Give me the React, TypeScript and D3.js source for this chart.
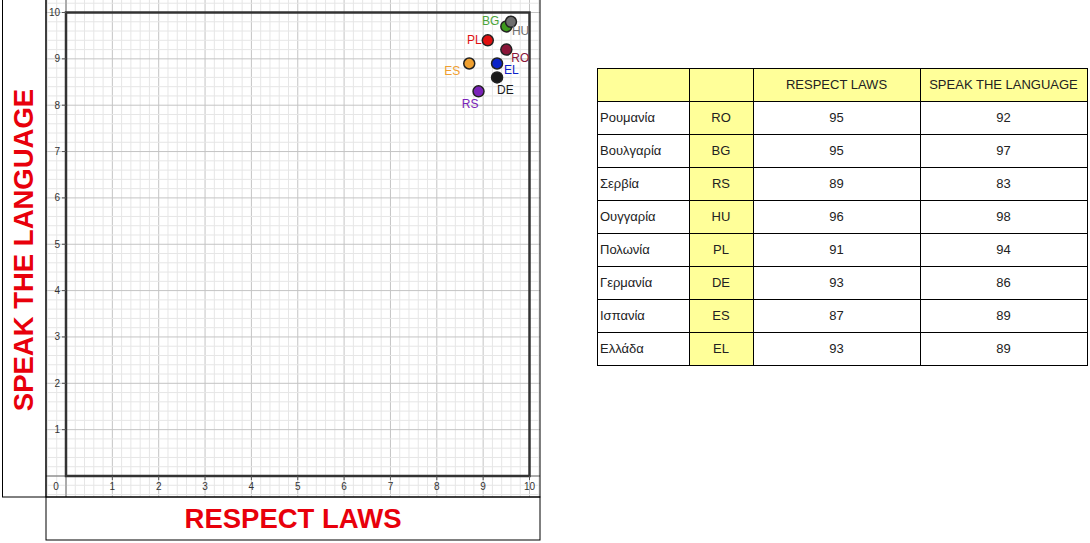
import React from "react";
import * as d3 from "d3";

const countries = ["Ρουμανία", "Βουλγαρία", "Σερβία", "Ουγγαρία", "Πολωνία", "Γερμανία", "Ισπανία", "Ελλάδα"];
const codes = ["RO", "BG", "RS", "HU", "PL", "DE", "ES", "EL"];
const respectLaws = [95, 95, 89, 96, 91, 93, 87, 93];
const speakLanguage = [92, 97, 83, 98, 94, 86, 89, 89];
const pointColors = ["#8a1538", "#3d9a1c", "#7a22b8", "#6e6e6e", "#e01010", "#1a1a1a", "#f0a030", "#0a22c8"];
const labelColors = ["#8a1538", "#4ca43a", "#7a22b8", "#6e6e6e", "#e01010", "#1a1a1a", "#f0a030", "#0a22c8"];
const labelOffsets: [number, number, string][] = [
  [5, 12, "start"], [-7, -1, "end"], [0, 17, "end"], [1, 13, "start"],
  [-6, 4, "end"], [0, 17, "start"], [-9, 12, "end"], [7, 11, "start"],
];
const tickValues = [1, 2, 3, 4, 5, 6, 7, 8, 9, 10];
const headers = ["", "", "RESPECT LAWS", "SPEAK THE LANGUAGE"];

export default function App() {
  const x = d3.scaleLinear().domain([0, 10]).range([66, 529.5]);
  const y = d3.scaleLinear().domain([0, 10]).range([476, 12.5]);
  const plotL = 46, plotR = 540, plotT = 0, plotB = 497;
  const minor = d3.range(-0.4, 10.3, 0.2).map((v) => +v.toFixed(1));
  const font = "Arial, 'Liberation Sans', sans-serif";

  const colX = [597, 689, 753, 920, 1087];
  const rowY = d3.range(10).map((i) => 68 + i * 33);
  const yellow = "#ffff99";

  return (
    <svg width={1090} height={543} style={{ position: "absolute", left: 0, top: 0, background: "#fff" }} fontFamily={font}>
      <defs>
        <clipPath id="plotclip">
          <rect x={plotL} y={plotT} width={plotR - plotL} height={plotB - plotT} />
        </clipPath>
      </defs>
      <rect x={0} y={0} width={1090} height={543} fill="#fff" />
      <g clipPath="url(#plotclip)">
        {minor.map((v) => (
          <line key={"vx" + v} x1={x(v)} x2={x(v)} y1={plotT} y2={plotB} stroke={Math.abs(v - Math.round(v)) < 1e-6 ? "#c4c4c4" : "#e6e6e6"} strokeWidth={1} />
        ))}
        {minor.map((v) => (
          <line key={"hy" + v} y1={y(v)} y2={y(v)} x1={plotL} x2={plotR} stroke={Math.abs(v - Math.round(v)) < 1e-6 ? "#c4c4c4" : "#e6e6e6"} strokeWidth={1} />
        ))}
        <line x1={x(0)} x2={x(0)} y1={plotT} y2={plotB} stroke="#777" strokeWidth={1} />
        <line y1={y(0)} y2={y(0)} x1={plotL} x2={plotR} stroke="#777" strokeWidth={1} />
        <rect x={x(0)} y={y(10)} width={x(10) - x(0)} height={y(0) - y(10)} fill="none" stroke="#333" strokeWidth={2.5} />
        {tickValues.map((t) => (
          <g key={"t" + t}>
            <line x1={x(t)} x2={x(t)} y1={y(0)} y2={y(0) + 4} stroke="#555" />
            <text x={x(t)} y={y(0) + 14} fontSize={10} textAnchor="middle" fill="#333">{t}</text>
            <line x1={x(0) - 4} x2={x(0)} y1={y(t)} y2={y(t)} stroke="#555" />
            <text x={x(0) - 6} y={y(t) + 3.5} fontSize={10} textAnchor="end" fill="#333">{t}</text>
          </g>
        ))}
        <text x={x(0) - 10} y={y(0) + 14} fontSize={10} textAnchor="middle" fill="#333">0</text>
        {codes.map((c, i) => {
          const cx = x(respectLaws[i] / 10);
          const cy = y(speakLanguage[i] / 10);
          const [dx, dy, anchor] = labelOffsets[i];
          return (
            <g key={c}>
              <circle cx={cx} cy={cy} r={5.5} fill={pointColors[i]} stroke="#222" strokeWidth={1.5} />
              <text x={cx + dx} y={cy + dy} fontSize={12} fill={labelColors[i]} textAnchor={anchor as any}>{c}</text>
            </g>
          );
        })}
      </g>
      {/* frames */}
      <rect x={2.5} y={-1} width={plotL - 2.5} height={plotB + 1} fill="none" stroke="#000" strokeWidth={1} />
      <rect x={plotL} y={plotB} width={plotR - plotL} height={43} fill="none" stroke="#000" strokeWidth={1} />
      <rect x={plotL} y={-1} width={plotR - plotL} height={plotB + 1} fill="none" stroke="#000" strokeWidth={1} />
      <text transform={`translate(32.5,${250}) rotate(-90)`} textAnchor="middle" fontSize={27.5} fontWeight="bold" fill="#e8000b">SPEAK THE LANGUAGE</text>
      <text x={293} y={528} textAnchor="middle" fontSize={27.5} fontWeight="bold" fill="#e8000b">RESPECT LAWS</text>

      {/* table */}
      <rect x={colX[0]} y={rowY[0]} width={colX[4] - colX[0]} height={33} fill={yellow} />
      {rowY.slice(1, 9).map((ry) => (
        <rect key={"yc" + ry} x={colX[1]} y={ry} width={colX[2] - colX[1]} height={33} fill={yellow} />
      ))}
      {headers.map((h, j) => (
        <text key={"h" + j} x={(colX[j] + colX[j + 1]) / 2} y={rowY[0] + 21} textAnchor="middle" fontSize={13} fill="#222">{h}</text>
      ))}
      {countries.map((c, i) => {
        const ty = rowY[i + 1] + 21;
        return (
          <g key={"r" + i}>
            <text x={colX[0] + 3} y={ty} fontSize={13} fill="#222">{c}</text>
            <text x={(colX[1] + colX[2]) / 2} y={ty} fontSize={13} textAnchor="middle" fill="#222">{codes[i]}</text>
            <text x={(colX[2] + colX[3]) / 2} y={ty} fontSize={13} textAnchor="middle" fill="#222">{respectLaws[i]}</text>
            <text x={(colX[3] + colX[4]) / 2} y={ty} fontSize={13} textAnchor="middle" fill="#222">{speakLanguage[i]}</text>
          </g>
        );
      })}
      {rowY.map((ry) => (
        <line key={"rl" + ry} x1={colX[0]} x2={colX[4]} y1={ry + 0.5} y2={ry + 0.5} stroke="#000" />
      ))}
      {colX.map((cx) => (
        <line key={"cl" + cx} x1={cx + 0.5} x2={cx + 0.5} y1={rowY[0]} y2={rowY[9] + 1} stroke="#000" />
      ))}
    </svg>
  );
}
